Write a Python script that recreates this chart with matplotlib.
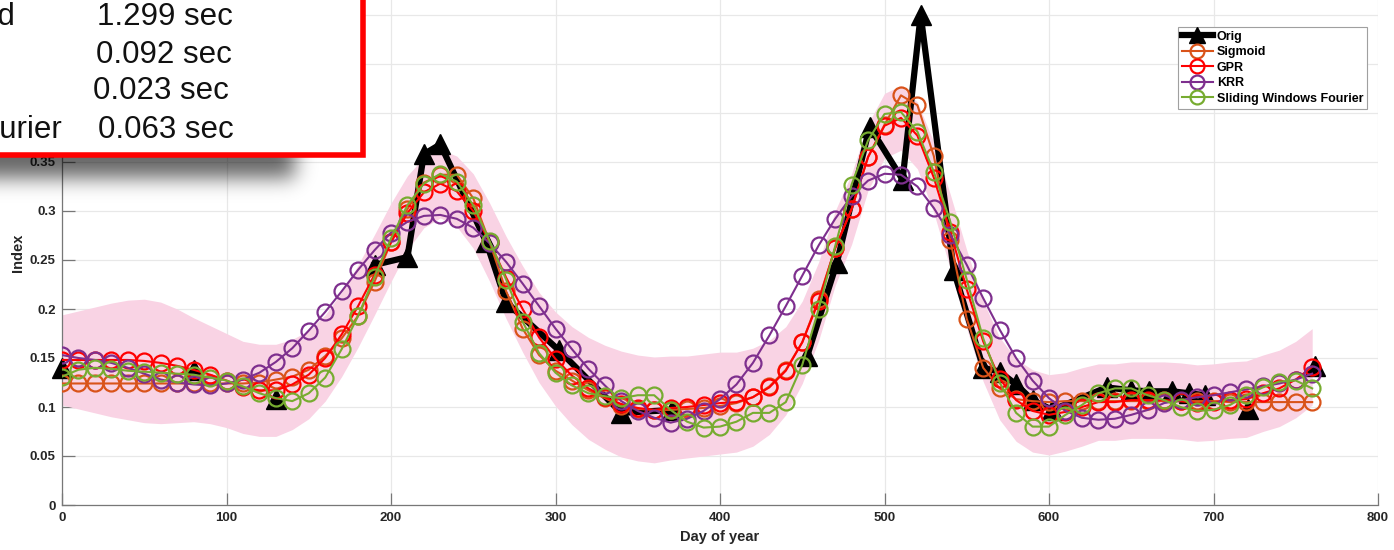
import numpy as np
import matplotlib
matplotlib.use("Agg")
import matplotlib.pyplot as plt
from matplotlib.patches import Rectangle
from matplotlib.lines import Line2D

plt.rcParams['font.family'] = ['Liberation Sans', 'DejaVu Sans']

# ---------------------------------------------------------------
# data
# ---------------------------------------------------------------
days = np.arange(0, 761, 10)

# observed index; NaN entries split the record into separate runs
orig_days = [0, 5, 80, 85, 130, 135, 190, 210, 220, 230, 258, 270, 302, 340, 371,
             400, 453, 471, 491, 511, 522, 542, 560, 570, 580, 590, 602, 635,
             650, 661, 675, 685, 695, 700, 721, 740, 762]
orig_vals = [0.140, np.nan, 0.138, np.nan, 0.108, np.nan, 0.245, 0.253, 0.358,
             0.368, 0.268, 0.207, 0.158, 0.094, 0.097, np.nan, 0.152, 0.247,
             0.386, 0.332, 0.500, 0.240, 0.140, 0.136, 0.123, 0.107, 0.097,
             0.120, 0.117, 0.116, 0.116, 0.114, 0.112, np.nan, 0.098, np.nan,
             0.142]

sigmoid = [0.124, 0.124, 0.124, 0.124, 0.124, 0.124, 0.124, 0.124, 0.124, 0.124,
           0.124, 0.124, 0.125, 0.128, 0.131, 0.138, 0.152, 0.170, 0.193, 0.228,
           0.268, 0.302, 0.329, 0.337, 0.337, 0.313, 0.268, 0.218, 0.180, 0.153,
           0.137, 0.127, 0.117, 0.109, 0.101, 0.098, 0.097, 0.097, 0.098, 0.099,
           0.101, 0.104, 0.110, 0.121, 0.138, 0.166, 0.210, 0.262, 0.302, 0.355,
           0.388, 0.418, 0.408, 0.356, 0.270, 0.190, 0.140, 0.119, 0.108, 0.106,
           0.105, 0.106, 0.106, 0.106, 0.106, 0.106, 0.106, 0.106, 0.106, 0.106,
           0.106, 0.105, 0.105, 0.105, 0.105, 0.105, 0.105]

gpr = [0.148, 0.148, 0.148, 0.148, 0.148, 0.147, 0.145, 0.142, 0.138, 0.133,
       0.127, 0.120, 0.117, 0.117, 0.123, 0.133, 0.150, 0.174, 0.203, 0.235,
       0.268, 0.298, 0.319, 0.328, 0.320, 0.300, 0.268, 0.232, 0.200, 0.171,
       0.149, 0.132, 0.119, 0.110, 0.103, 0.099, 0.097, 0.099, 0.100, 0.102,
       0.104, 0.105, 0.110, 0.120, 0.137, 0.166, 0.208, 0.262, 0.302, 0.355,
       0.387, 0.395, 0.377, 0.334, 0.279, 0.220, 0.167, 0.129, 0.107, 0.096,
       0.092, 0.095, 0.100, 0.105, 0.105, 0.107, 0.107, 0.107, 0.106, 0.104,
       0.105, 0.107, 0.108, 0.114, 0.119, 0.128, 0.141]

gpr_std = [0.046, 0.050, 0.054, 0.058, 0.061, 0.063, 0.062, 0.058, 0.053, 0.050,
           0.048, 0.047, 0.047, 0.047, 0.046, 0.045, 0.044, 0.043, 0.042, 0.041,
           0.040, 0.038, 0.036, 0.035, 0.036, 0.038, 0.040, 0.042, 0.044, 0.046,
           0.048, 0.050, 0.052, 0.053, 0.054, 0.054, 0.054, 0.053, 0.052, 0.052,
           0.052, 0.051, 0.050, 0.048, 0.045, 0.042, 0.040, 0.038, 0.036, 0.034,
           0.033, 0.033, 0.034, 0.036, 0.038, 0.040, 0.041, 0.042, 0.042, 0.042,
           0.041, 0.040, 0.040, 0.039, 0.039, 0.039, 0.039, 0.039, 0.039, 0.039,
           0.039, 0.039, 0.039, 0.039, 0.039, 0.039, 0.039]

krr = [0.153, 0.150, 0.148, 0.145, 0.140, 0.134, 0.128, 0.125, 0.123, 0.122,
       0.124, 0.128, 0.135, 0.146, 0.160, 0.178, 0.197, 0.218, 0.240, 0.260,
       0.278, 0.289, 0.295, 0.296, 0.292, 0.283, 0.267, 0.248, 0.226, 0.203,
       0.180, 0.159, 0.139, 0.122, 0.106, 0.096, 0.089, 0.084, 0.088, 0.096,
       0.108, 0.123, 0.145, 0.173, 0.203, 0.234, 0.265, 0.292, 0.315, 0.331,
       0.338, 0.337, 0.325, 0.303, 0.276, 0.245, 0.211, 0.179, 0.150, 0.127,
       0.109, 0.096, 0.089, 0.087, 0.088, 0.092, 0.097, 0.104, 0.107, 0.110,
       0.112, 0.115, 0.118, 0.121, 0.124, 0.128, 0.134]

swf = [0.131, 0.138, 0.140, 0.139, 0.137, 0.136, 0.135, 0.134, 0.133, 0.130,
       0.127, 0.121, 0.114, 0.109, 0.106, 0.114, 0.130, 0.159, 0.193, 0.233,
       0.272, 0.306, 0.328, 0.338, 0.330, 0.306, 0.269, 0.230, 0.187, 0.155,
       0.135, 0.122, 0.114, 0.111, 0.109, 0.112, 0.112, 0.097, 0.085, 0.079,
       0.080, 0.085, 0.094, 0.094, 0.105, 0.143, 0.200, 0.264, 0.327, 0.372,
       0.399, 0.401, 0.381, 0.340, 0.289, 0.230, 0.170, 0.125, 0.094, 0.080,
       0.080, 0.092, 0.102, 0.114, 0.119, 0.119, 0.112, 0.107, 0.100, 0.096,
       0.097, 0.102, 0.112, 0.120, 0.126, 0.127, 0.119]

methods = ['Sigmoid', 'GPR', 'KRR', 'Sliding Windows Fourier']
timings = ['1.299 sec', '0.092 sec', '0.023 sec', '0.063 sec']

C_SIG = '#D95319'
C_GPR = '#FF0000'
C_KRR = '#7E2F8E'
C_SWF = '#77AC30'

W, H = 1394, 550
fig = plt.figure(figsize=(W / 100, H / 100), dpi=100)
ax = fig.add_axes([62 / W, 45 / H, (1378 - 62) / W, 505 / H])

gpr_a = np.array(gpr)
std_a = np.array(gpr_std)
ax.fill_between(days, gpr_a - std_a, gpr_a + std_a, color='#F9D3E4', lw=0, zorder=1)

ax.plot(orig_days, orig_vals, '-^', color='k', lw=4.5, ms=14, zorder=3, clip_on=False)
circ = dict(marker='o', ms=11.5, mfc='none', mew=1.6, lw=1.5, zorder=4)
ax.plot(days, sigmoid, color=C_SIG, **circ)
ax.plot(days, gpr, color=C_GPR, **circ)
ax.plot(days, krr, color=C_KRR, **circ)
ax.plot(days, swf, color=C_SWF, **circ)

ax.set_xlim(0, 800)
ax.set_ylim(0, 505 / 980)
ax.set_xticks(np.arange(0, 801, 100))
yt = np.arange(0, 0.51, 0.05)
ax.set_yticks(yt)
ax.set_yticklabels(['0', '0.05', '0.1', '0.15', '0.2', '0.25', '0.3', '0.35', '0.4', '0.45', '0.5'])
ax.grid(True, color='#E8E8E8', lw=0.9)
ax.set_axisbelow(True)
for s in ['top', 'right']:
    ax.spines[s].set_visible(False)
for s in ['left', 'bottom']:
    ax.spines[s].set_color('#777777')
    ax.spines[s].set_linewidth(0.9)
ax.tick_params(direction='in', length=9, width=0.9, color='#777777',
               labelcolor='#262626', labelsize=9.5)
ax.tick_params(axis='y', pad=4.5)
ax.tick_params(axis='x', pad=5)
for lab in ax.get_xticklabels() + ax.get_yticklabels():
    lab.set_fontweight('bold')
ax.set_xlabel('Day of year', fontsize=10.5, fontweight='bold', color='#262626', labelpad=4)
ax.set_ylabel('Index', fontsize=10.5, fontweight='bold', color='#262626', labelpad=3.5)

handles = [Line2D([], [], color='k', lw=4.5, marker='^', ms=12)]
for c in [C_SIG, C_GPR, C_KRR, C_SWF]:
    handles.append(Line2D([], [], color=c, marker='o', ms=10, mfc='none', mew=1.6, lw=1.5))
leg = ax.legend(handles, ['Orig'] + methods, loc='upper right',
                bbox_to_anchor=(1367 / W, 1 - 27 / H), bbox_transform=fig.transFigure,
                prop=dict(weight='bold', size=9.0), fancybox=False, framealpha=1,
                edgecolor='#A0A0A0', handlelength=2.5, handletextpad=0.3,
                labelspacing=0.28, borderpad=0.3, borderaxespad=0)
leg.get_frame().set_linewidth(0.8)

# drop shadow under the timing box
sx0, sx1, sy0, sy1 = 0, 400, 110, 240
yy, xx = np.mgrid[sy0:sy1, sx0:sx1]
mask = ((xx < 295) & (yy < 178)).astype(float)
sig = 10.0
k = np.arange(-35, 36)
kern = np.exp(-0.5 * (k / sig) ** 2)
kern /= kern.sum()
pad = np.pad(mask, 35, mode='edge')
pad = np.apply_along_axis(lambda r: np.convolve(r, kern, mode='same'), 1, pad)
pad = np.apply_along_axis(lambda c: np.convolve(c, kern, mode='same'), 0, pad)
blur = pad[35:-35, 35:-35]
rgba = np.zeros(blur.shape + (4,))
rgba[..., 3] = blur * 0.6
sh = fig.add_axes([sx0 / W, 1 - sy1 / H, (sx1 - sx0) / W, (sy1 - sy0) / H], zorder=5)
sh.imshow(rgba, aspect='auto', interpolation='bilinear')
sh.axis('off')

# timing box
box = Rectangle((-30 / W, 1 - 155 / H), (362.5 + 30) / W, 185 / H, transform=fig.transFigure,
                facecolor='white', edgecolor='#FF0000', lw=4, zorder=10)
fig.add_artist(box)
base_y = [25, 63, 99, 138]
name_end = [15, -40, -40, 62]
num_x = [97, 96, 93, 98]
for m, t, by, ne, nx in zip(methods, timings, base_y, name_end, num_x):
    fig.text(ne / W, 1 - by / H, m, ha='right', va='baseline', fontsize=22.5,
             color='#111111', zorder=11)
    fig.text(nx / W, 1 - by / H, t, ha='left', va='baseline', fontsize=22.5,
             color='#111111', zorder=11)

fig.savefig('out.png', dpi=100)
